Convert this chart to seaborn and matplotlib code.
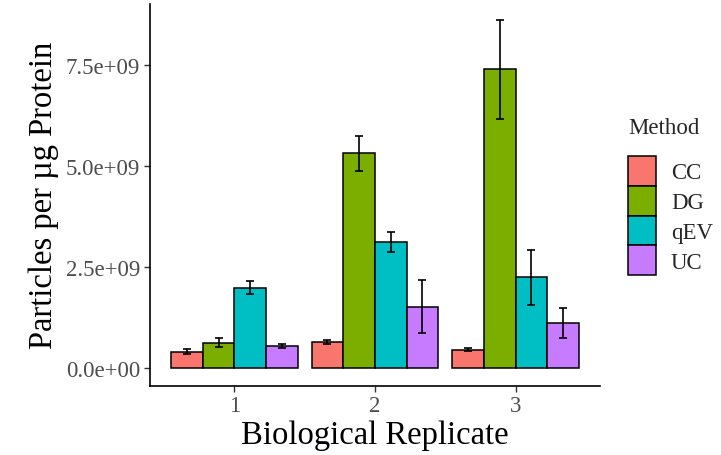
import matplotlib
matplotlib.use("Agg")
import matplotlib.pyplot as plt
import seaborn as sns
import pandas as pd
import numpy as np
from matplotlib.ticker import FixedLocator, FixedFormatter

replicates = ["1", "2", "3"]
methods = ["CC", "DG", "qEV", "UC"]
# mean values (particles per ug protein), per replicate, per method
cc_mean = [0.41e9, 0.66e9, 0.46e9]
dg_mean = [0.63e9, 5.32e9, 7.40e9]
qev_mean = [2.00e9, 3.13e9, 2.26e9]
uc_mean = [0.56e9, 1.53e9, 1.13e9]
# error half-widths
cc_err = [0.06e9, 0.05e9, 0.04e9]
dg_err = [0.11e9, 0.44e9, 1.23e9]
qev_err = [0.16e9, 0.25e9, 0.68e9]
uc_err = [0.05e9, 0.66e9, 0.37e9]
colors = ["#F8766D", "#7CAE00", "#00BFC4", "#C77CFF"]
ytick_vals = [0, 2.5e9, 5.0e9, 7.5e9]
ytick_labels = ["0.0e+00", "2.5e+09", "5.0e+09", "7.5e+09"]

means = {"CC": cc_mean, "DG": dg_mean, "qEV": qev_mean, "UC": uc_mean}
errs = {"CC": cc_err, "DG": dg_err, "qEV": qev_err, "UC": uc_err}
rows = []
for m in methods:
    for i, r in enumerate(replicates):
        rows.append({"Replicate": r, "Method": m, "Value": means[m][i], "Err": errs[m][i]})
df = pd.DataFrame(rows)

sns.set_style("white")
plt.rcParams['font.family'] = ['Liberation Serif', 'DejaVu Serif']

fig = plt.figure(figsize=(7.21, 4.56), dpi=100)
ax = fig.add_axes([0.208, 0.152, 0.624, 0.837])
sns.barplot(data=df, x="Replicate", y="Value", hue="Method", order=replicates,
            hue_order=methods, palette=colors, errorbar=None, width=0.9,
            edgecolor="black", linewidth=1.1, ax=ax, saturation=1)

# error bars at bar centres
for container, m in zip(ax.containers, methods):
    xs = [p.get_x() + p.get_width() / 2 for p in container.patches]
    ax.errorbar(xs, means[m], yerr=errs[m], fmt="none", ecolor="black",
                elinewidth=1.2, capsize=3, capthick=1.2, zorder=5)

ax.set_xlim(-0.6, 2.6)
ax.set_ylim(-0.43e9, 9.02e9)
ax.yaxis.set_major_locator(FixedLocator(ytick_vals))
ax.yaxis.set_major_formatter(FixedFormatter(ytick_labels))
ax.set_xlabel("Biological Replicate", fontsize=23.5, color="black", labelpad=2)
ax.set_ylabel("Particles per µg Protein", fontsize=23.5, color="black", labelpad=5)
ax.tick_params(axis="both", labelsize=16.5, labelcolor="#4D4D4D", length=4,
               width=1.0, color="#333333", direction="out", bottom=True, left=True, pad=3)
for s in ["top", "right"]:
    ax.spines[s].set_visible(False)
for s in ["left", "bottom"]:
    ax.spines[s].set_color("black")
    ax.spines[s].set_linewidth(1.2)

leg = ax.legend(title="Method", loc="upper left", bbox_to_anchor=(628 / 721, 1 - 118 / 456),
                bbox_transform=fig.transFigure,
                frameon=False, fontsize=16.5, title_fontsize=16.5,
                handlelength=1.22, handleheight=1.62, labelspacing=0.0,
                handletextpad=0.65, borderaxespad=0, borderpad=0)
leg._legend_box.align = "left"
leg._legend_box.sep = 13
for h in leg.legend_handles:
    h.set_edgecolor("black")
    h.set_linewidth(1.1)

fig.savefig("out.png", dpi=100)
